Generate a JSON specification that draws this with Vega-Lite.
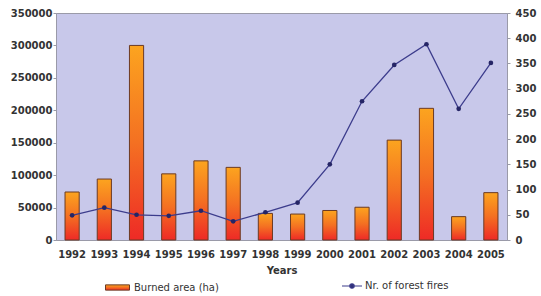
{
  "$schema": "https://vega.github.io/schema/vega-lite/v6.json",
  "autosize": {"type": "none"},
  "padding": {"left": 56, "top": 13, "right": 34, "bottom": 56},
  "width": 451,
  "height": 227,
  "background": "white",
  "config": {
    "view": {"fill": "#c8c8ea", "stroke": "#9a9aa8", "strokeWidth": 1},
    "font": "DejaVu Sans",
    "axis": {"labelFont": "DejaVu Sans", "labelFontSize": 10, "labelFontWeight": "bold", "labelColor": "#333333", "domainColor": "#9a9aa8", "tickColor": "#9a9aa8", "grid": false, "titleFont": "DejaVu Sans"},
    "legend": {"labelFont": "DejaVu Sans", "labelFontSize": 10, "labelColor": "#333333", "padding": 0}
  },
  "data": {"values": [
    {"year": "1992", "area": 74000, "fires": 49},
    {"year": "1993", "area": 94000, "fires": 64},
    {"year": "1994", "area": 300000, "fires": 50},
    {"year": "1995", "area": 102000, "fires": 48},
    {"year": "1996", "area": 122000, "fires": 58},
    {"year": "1997", "area": 112000, "fires": 37},
    {"year": "1998", "area": 41000, "fires": 55},
    {"year": "1999", "area": 40000, "fires": 74},
    {"year": "2000", "area": 45500, "fires": 150},
    {"year": "2001", "area": 50500, "fires": 275},
    {"year": "2002", "area": 154000, "fires": 347},
    {"year": "2003", "area": 203000, "fires": 388},
    {"year": "2004", "area": 36000, "fires": 260},
    {"year": "2005", "area": 73000, "fires": 351}
  ]},
  "encoding": {
    "x": {"field": "year", "type": "ordinal", "scale": {"paddingInner": 0.56, "paddingOuter": 0.28},
      "axis": {"title": "Years", "titleFontSize": 10, "titleFontWeight": "bold", "titleColor": "#333333", "titlePadding": 6, "labelAngle": 0, "ticks": false, "labelPadding": 9}}
  },
  "layer": [
    {
      "mark": {"type": "bar", "strokeWidth": 1,
        "fill": {"gradient": "linear", "x1": 0, "y1": 0, "x2": 0, "y2": 1,
          "stops": [{"offset": 0, "color": "#fca41f"}, {"offset": 0.5, "color": "#f47022"}, {"offset": 1, "color": "#ee2a26"}]}},
      "encoding": {
        "y": {"field": "area", "type": "quantitative", "scale": {"domain": [0, 350000], "nice": false},
          "axis": {"title": null, "values": [0, 50000, 100000, 150000, 200000, 250000, 300000, 350000], "format": "d", "labelPadding": 1, "tickSize": 3}},
        "stroke": {"datum": "Burned area (ha)", "type": "nominal",
          "scale": {"range": ["#6b3a24"]},
          "legend": {"title": null, "orient": "none", "legendX": 49, "legendY": 262,
            "symbolType": "M-1,-0.22H1V0.22H-1Z", "symbolSize": 576, "symbolFillColor": "#f26a1b", "symbolStrokeWidth": 1, "labelOffset": 4}}
      }
    },
    {
      "mark": {"type": "line", "strokeWidth": 1.3, "color": "#3c3c8c"},
      "encoding": {
        "y": {"field": "fires", "type": "quantitative", "scale": {"domain": [0, 450], "nice": false},
          "axis": {"title": null, "orient": "right", "values": [0, 50, 100, 150, 200, 250, 300, 350, 400, 450], "labelPadding": 5, "tickSize": 3}},
        "color": {"datum": "Nr. of forest fires", "type": "nominal",
          "scale": {"range": ["#3c3c8c"]},
          "legend": {"title": null, "orient": "none", "legendX": 285, "legendY": 262,
            "symbolType": "M-1,0H1M-0.22,0A0.22,0.22 0 1,0 0.22,0A0.22,0.22 0 1,0 -0.22,0Z", "symbolSize": 400, "symbolFillColor": "#252566", "symbolStrokeWidth": 1.2, "labelOffset": 2}}
      }
    },
    {
      "mark": {"type": "point", "filled": true, "fill": "#252566", "size": 22, "opacity": 1},
      "encoding": {
        "y": {"field": "fires", "type": "quantitative", "scale": {"domain": [0, 450], "nice": false}, "axis": null}
      }
    }
  ],
  "resolve": {"scale": {"y": "independent"}}
}
